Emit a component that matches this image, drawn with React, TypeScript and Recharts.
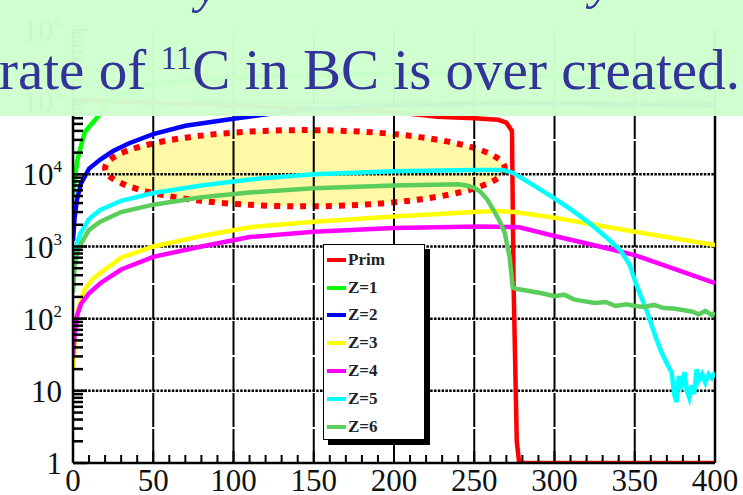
import React from 'react';
import { LineChart, Line, XAxis, YAxis, ReferenceLine, ReferenceArea } from 'recharts';

const seriesNames = ['Prim', 'Z=1', 'Z=2', 'Z=3', 'Z=4', 'Z=5', 'Z=6'];
const seriesColors = ['#ff0000', '#00ff00', '#0000ff', '#ffff00', '#ff00ff', '#00ffff', '#5acd5a'];

// depth (x) and fluence (y), one pair of arrays per series
const primX = [0, 50, 100, 150, 200, 227, 250, 265, 270, 273.5, 274.5, 276.5, 278, 300, 350, 400];
const primY = [1.1e5, 9.8e4, 8.9e4, 8.1e4, 7.3e4, 6.3e4, 6e4, 5.7e4, 5.2e4, 4e4, 300, 2, 1, 1, 1, 1];

const z1X = [0, 1, 2.5, 5, 7.5, 15.5, 20, 30, 50, 100, 200, 270, 400];
const z1Y = [5e3, 8e3, 1.5e4, 2.5e4, 3.9e4, 6.3e4, 9e4, 1.3e5, 1.8e5, 2.2e5, 2.5e5, 2.5e5, 1.5e5];

const z2X = [0, 1, 2.5, 5, 10, 17, 25, 35, 50, 70, 100, 125, 150, 200, 270, 400];
const z2Y = [1.2e3, 2.5e3, 4.5e3, 7.5e3, 1.2e4, 1.6e4, 2.1e4, 2.7e4, 3.6e4, 4.7e4, 5.9e4, 7e4, 8e4, 9e4, 9.5e4, 9e4];

const z3X = [0, 0.5, 1.5, 3, 5, 7, 12, 17, 30, 50, 80, 110, 150, 200, 250, 265, 275, 300, 350, 400];
const z3Y = [20, 25, 70, 130, 180, 250, 350, 430, 700, 1e3, 1.4e3, 1.85e3, 2.2e3, 2.6e3, 3e3, 3.1e3, 3e3, 2.5e3, 1.6e3, 1.05e3];

const z4X = [0, 1, 2.5, 5, 10, 17, 30, 50, 80, 110, 150, 200, 254, 278, 300, 328, 350, 376, 400];
const z4Y = [30, 60, 110, 160, 225, 310, 480, 720, 1e3, 1.35e3, 1.6e3, 1.8e3, 1.9e3, 1.85e3, 1.4e3, 1e3, 760, 480, 310];

const z5X = [0, 1, 2.5, 4.5, 10, 17, 30, 50, 80, 110, 150, 200, 250, 268, 274, 285, 299, 310, 322, 333, 341, 347, 350, 354, 358, 362, 366, 370, 373, 374.5, 376, 377.5, 379, 381, 382.5, 384, 385.5, 387, 388.5, 390, 392, 394, 396, 398, 400];
const z5Y = [400, 700, 1.1e3, 1.5e3, 2.4e3, 3.2e3, 4.3e3, 5.5e3, 7e3, 8.5e3, 1e4, 1.1e4, 1.15e4, 1.15e4, 1.05e4, 7.5e3, 4.8e3, 3.3e3, 2.1e3, 1.3e3, 890, 550, 340, 200, 120, 65, 37, 24, 18, 9, 7, 16, 12, 18, 10, 8, 12, 9, 20, 14, 17, 13, 17, 15, 18];

const z6X = [0, 1, 2.5, 5, 10, 17, 30, 50, 80, 110, 150, 200, 240, 245, 250, 254, 258, 262, 266, 269, 272, 274, 276, 285, 292, 300, 306, 312, 318, 325, 332, 338, 345, 350, 356, 362, 368, 374, 380, 386, 390, 394, 398, 400];
const z6Y = [230, 500, 800, 1.1e3, 1.7e3, 2.2e3, 3e3, 3.8e3, 4.8e3, 5.6e3, 6.4e3, 7e3, 7.3e3, 7e3, 6.5e3, 5.7e3, 4.5e3, 3.2e3, 2.2e3, 1.55e3, 720, 270, 260, 240, 225, 205, 215, 185, 175, 165, 170, 150, 158, 150, 145, 155, 140, 138, 132, 125, 115, 128, 112, 122];

const xTicks = [0, 10, 20, 30, 40, 50, 60, 70, 80, 90, 100, 110, 120, 130, 140, 150, 160, 170, 180, 190, 200, 210, 220, 230, 240, 250, 260, 270, 280, 290, 300, 310, 320, 330, 340, 350, 360, 370, 380, 390, 400];
const xGrid = [50, 100, 150, 200, 250, 300, 350];
const yDecades = [1, 10, 100, 1e3, 1e4, 1e5, 1e6];
const yGrid = [10, 100, 1e3, 1e4, 1e5];
const yTicks = [
  1, 2, 3, 4, 5, 6, 7, 8, 9,
  10, 20, 30, 40, 50, 60, 70, 80, 90,
  100, 200, 300, 400, 500, 600, 700, 800, 900,
  1e3, 2e3, 3e3, 4e3, 5e3, 6e3, 7e3, 8e3, 9e3,
  1e4, 2e4, 3e4, 4e4, 5e4, 6e4, 7e4, 8e4, 9e4,
  1e5, 2e5, 3e5, 4e5, 5e5, 6e5, 7e5, 8e5, 9e5, 1e6,
];

// highlighted region (x from, x to, y from, y to)
const highlight = [20, 269, 3.6e3, 4.1e4];

const xs = [primX, z1X, z2X, z3X, z4X, z5X, z6X];
const ys = [primY, z1Y, z2Y, z3Y, z4Y, z5Y, z6Y];
const series = seriesNames.map((name, i) => ({
  name,
  color: seriesColors[i],
  points: xs[i].map((x, j) => ({ x, y: ys[i][j] })),
}));

const serif = '"Liberation Serif", "DejaVu Serif", serif';
const titleBlue = '#333399';

const XTick = (props: any) => {
  const { x, y, payload } = props;
  const v = payload.value;
  const major = v % 50 === 0;
  return (
    <g>
      <line x1={x} x2={x} y1={y} y2={y - (major ? 12 : 8)} stroke="#000" strokeWidth={2} />
      {major && (
        <text x={x} y={y + 28} textAnchor="middle" fontFamily={serif} fontSize={31} fill="#111">
          {v}
        </text>
      )}
    </g>
  );
};

const YTick = (props: any) => {
  const { x, y, payload } = props;
  const v = payload.value;
  const decade = yDecades.includes(v);
  const exp = Math.round(Math.log10(v));
  return (
    <g>
      <line x1={x} x2={x + (decade ? 14 : 10)} y1={y} y2={y} stroke="#000" strokeWidth={2.5} />
      {decade && (
        <text x={x - 11} y={y + 11} textAnchor="end" fontFamily={serif} fontSize={31} fill="#111">
          {exp <= 1 ? String(v) : (
            <>
              <tspan>10</tspan>
              <tspan dy={-13} fontSize={17}>{exp}</tspan>
            </>
          )}
        </text>
      )}
    </g>
  );
};

const EllipseShape = (props: any) => {
  const { x, y, width, height } = props;
  return (
    <ellipse
      cx={x + width / 2}
      cy={y + height / 2}
      rx={width / 2}
      ry={height / 2}
      fill="#fff8a6"
      stroke="#ff0000"
      strokeWidth={6}
      strokeDasharray="6 7"
    />
  );
};

export default function App() {
  return (
    <div style={{ position: 'absolute', left: 0, top: 0, width: 743, height: 495, background: '#fff', overflow: 'hidden' }}>
      <LineChart width={743} height={495} margin={{ top: 30, right: 28, bottom: 2, left: 0 }}>
        <XAxis
          type="number"
          dataKey="x"
          domain={[0, 400]}
          ticks={xTicks}
          interval={0}
          height={30}
          tickSize={0}
          tickMargin={0}
          tick={XTick}
          axisLine={{ stroke: '#000', strokeWidth: 2.5 }}
          allowDataOverflow
        />
        <YAxis
          type="number"
          dataKey="y"
          scale="log"
          domain={[1, 1e6]}
          ticks={yTicks}
          interval={0}
          width={73}
          tickSize={0}
          tickMargin={0}
          tick={YTick}
          axisLine={{ stroke: '#000', strokeWidth: 2.5 }}
          allowDataOverflow
        />
        <ReferenceArea
          x1={highlight[0]}
          x2={highlight[1]}
          y1={highlight[2]}
          y2={highlight[3]}
          ifOverflow="visible"
          shape={EllipseShape}
        />
        {yGrid.map((v) => (
          <ReferenceLine key={'h' + v} y={v} stroke="#000" strokeWidth={2.5} strokeDasharray="2.5 1.3" />
        ))}
        {xGrid.map((v) => (
          <ReferenceLine key={'v' + v} x={v} stroke="#000" strokeWidth={2} strokeDasharray="34 2" />
        ))}
        <ReferenceLine x={400} stroke="#000" strokeWidth={2.5} />
        {series.map((s) => (
          <Line
            key={s.name}
            name={s.name}
            data={s.points}
            dataKey="y"
            type="linear"
            stroke={s.color}
            strokeWidth={4.5}
            dot={false}
            isAnimationActive={false}
          />
        ))}
      </LineChart>

      {/* legend box */}
      <div
        style={{
          position: 'absolute',
          left: 323,
          top: 244,
          width: 102,
          height: 196,
          border: '1.5px solid #000',
          background: '#fff',
          boxShadow: '5px 5px 0 #000',
          boxSizing: 'border-box',
          paddingTop: 1,
        }}
      >
        {series.map((s) => (
          <div key={s.name} style={{ display: 'flex', alignItems: 'center', height: 27.8 }}>
            <div style={{ width: 19, height: 4, background: s.color, marginLeft: 3, marginRight: 2 }} />
            <span style={{ fontFamily: serif, fontWeight: 'bold', fontSize: 17, color: '#222' }}>{s.name}</span>
          </div>
        ))}
      </div>

      {/* slide banner over the top of the plot */}
      <div
        style={{
          position: 'absolute',
          left: 0,
          top: 0,
          width: 743,
          height: 116,
          background: 'rgba(206, 255, 206, 0.97)',
          overflow: 'hidden',
        }}
      >
        <span style={{ position: 'absolute', left: 196, top: -40, fontFamily: serif, fontStyle: 'italic', fontSize: 50, lineHeight: '50px', color: titleBlue }}>y</span>
        <span style={{ position: 'absolute', left: 590, top: -44, fontFamily: serif, fontStyle: 'italic', fontSize: 50, lineHeight: '50px', color: titleBlue }}>y</span>
        <div
          style={{
            position: 'absolute',
            left: -1,
            top: 41,
            whiteSpace: 'nowrap',
            fontFamily: serif,
            fontSize: 57,
            lineHeight: '57px',
            color: titleBlue,
          }}
        >
          rate of <span style={{ fontSize: 33, position: 'relative', top: -20 }}>11</span>C in BC is over created.
        </div>
      </div>
    </div>
  );
}
